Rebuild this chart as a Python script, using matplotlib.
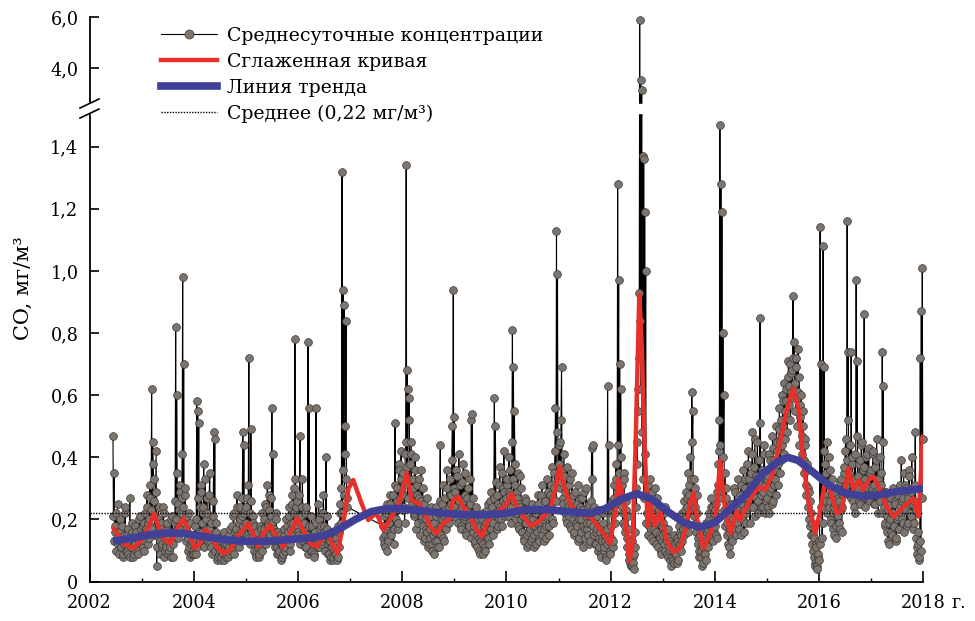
import numpy as np
import matplotlib.pyplot as plt
from matplotlib.lines import Line2D

plt.rcParams['font.family'] = ['DejaVu Serif']
plt.rcParams['font.size'] = 12.7

# ------------------------------------------------------------
# Daily CO means, thinned to ~2 values per week
# (units: 0.01 mg/m3). Gap in the record from Dec 2006 to Aug 2007.
# "a" lists hold the first sample of each week, "b" lists the mid-week one.
# ------------------------------------------------------------
co_2002a = [47, 35, 18, 22, 14, 12, 16, 20, 11, 13, 9, 15, 24, 12, 10, 17, 13, 8,
            11, 19, 14, 9, 12, 16, 10, 13, 21, 15]
co_2003a = [15, 11, 19, 13, 17, 24, 12, 20, 27, 18, 62, 45, 33, 21, 29, 5, 16, 24,
            13, 19, 11, 15, 22, 10, 12, 17, 9, 14, 11, 20, 13, 8, 16, 19, 82, 60,
            25, 18, 31, 22, 27, 98, 70, 28, 17, 21, 14, 11, 19, 9, 13, 10]
co_2004a = [12, 18, 9, 58, 55, 51, 24, 31, 16, 22, 38, 14, 20, 27, 13, 17, 35, 11,
            15, 21, 48, 46, 19, 12, 8, 14, 10, 7, 13, 9, 16, 11, 8, 12, 10, 15,
            9, 13, 18, 11, 22, 14, 17, 28, 12, 19, 24, 16, 21, 48, 44, 23]
co_2005a = [19, 27, 14, 72, 22, 49, 16, 21, 12, 18, 9, 14, 11, 8, 13, 17, 10, 15,
            20, 13, 24, 16, 19, 28, 14, 21, 56, 41, 17, 13, 22, 11, 16, 9, 14, 12,
            8, 11, 15, 10, 13, 18, 14, 21, 12, 17, 25, 19, 30, 78, 24, 18]
co_2006a = [21, 15, 47, 19, 24, 13, 17, 22, 11, 15, 77, 56, 14, 10, 18, 12, 9, 16,
            56, 13, 11, 20, 15, 18, 12, 22, 16, 14, 40, 17, 12, 9, 13, 8, 11, 7,
            10, 14, 9, 12, 8, 16, 22, 19, 132, 94, 89, 50, 84, 27]
co_2007a = [18, 12, 15, 22, 10, 14, 19, 25, 16, 21, 28, 17, 51, 23, 30, 19, 36, 27, 42]
co_2008a = [28, 35, 24, 41, 134, 68, 62, 59, 38, 45, 29, 33, 22, 40, 26, 31, 19, 27,
            24, 36, 21, 18, 25, 14, 20, 16, 23, 12, 17, 21, 10, 15, 19, 13, 24, 11,
            16, 22, 44, 18, 25, 14, 21, 27, 17, 30, 20, 24, 33, 28, 50, 94]
co_2009a = [53, 29, 22, 34, 19, 26, 31, 17, 24, 38, 21, 28, 15, 23, 30, 18, 25, 52,
            54, 16, 22, 13, 19, 11, 17, 14, 9, 15, 20, 12, 18, 10, 16, 23, 14, 21,
            26, 17, 24, 19, 59, 50, 22, 28, 18, 31, 24, 20, 35, 26, 29, 21]
co_2010a = [27, 33, 21, 29, 36, 24, 81, 69, 55, 31, 22, 27, 18, 25, 34, 20, 16, 23,
            13, 19, 26, 15, 21, 12, 17, 24, 14, 20, 11, 18, 22, 16, 25, 13, 19, 28,
            15, 21, 17, 26, 14, 22, 29, 18, 24, 31, 20, 27, 35, 56, 113, 99]
co_2011a = [38, 45, 32, 69, 27, 34, 22, 30, 19, 26, 21, 33, 17, 24, 28, 15, 22, 19,
            25, 13, 20, 27, 16, 23, 18, 29, 14, 21, 17, 24, 12, 19, 26, 43, 44, 15,
            20, 12, 17, 23, 11, 16, 9, 14, 19, 10, 13, 8, 12, 63, 44, 10]
co_2012a = [14, 22, 11, 27, 19, 33, 25, 128, 97, 70, 62, 31, 22, 35, 18, 26, 14, 21,
            9, 6, 12, 5, 8, 4, 11, 30, 45, 62, 93, 590, 355, 315, 137, 136, 119, 100,
            22, 31, 18, 26, 14, 29, 20, 17, 24, 12, 27, 19, 23, 15, 10, 18]
co_2013a = [19, 12, 24, 15, 9, 17, 11, 7, 13, 8, 10, 6, 12, 9, 14, 7, 11, 16,
            10, 13, 20, 15, 23, 18, 27, 16, 31, 22, 26, 61, 55, 33, 24, 19, 28, 14,
            10, 17, 8, 12, 6, 9, 13, 7, 16, 11, 20, 14, 24, 17, 13, 22]
co_2014a = [18, 25, 14, 31, 42, 147, 128, 119, 80, 60, 35, 27, 19, 12, 16, 9, 21, 14,
            25, 18, 29, 15, 22, 26, 17, 24, 31, 20, 27, 16, 33, 22, 38, 25, 29, 19,
            35, 41, 24, 30, 46, 27, 33, 22, 39, 85, 28, 36, 24, 44, 31, 26]
co_2015a = [27, 34, 22, 39, 30, 25, 43, 31, 36, 28, 45, 38, 49, 35, 52, 44, 58, 41,
            55, 62, 48, 66, 57, 70, 61, 68, 92, 77, 64, 72, 59, 75, 66, 53, 60, 47,
            55, 39, 44, 31, 36, 24, 29, 18, 22, 12, 15, 8, 5, 11, 4, 9]
co_2016a = [7, 114, 70, 14, 108, 69, 38, 26, 45, 31, 24, 36, 19, 28, 22, 15, 25, 18,
            30, 21, 26, 17, 33, 24, 29, 37, 42, 31, 116, 74, 35, 28, 74, 40, 26, 33,
            22, 97, 71, 30, 38, 25, 44, 29, 36, 86, 33, 27, 41, 30, 35, 26]
co_2017a = [36, 28, 42, 31, 25, 39, 33, 22, 30, 26, 35, 74, 63, 24, 19, 29, 16, 23,
            12, 20, 27, 15, 22, 18, 25, 14, 21, 28, 17, 24, 39, 20, 27, 16, 31, 23,
            29, 19, 34, 25, 21, 30, 17, 26, 48, 14, 9, 12, 8, 72, 87, 101]

co_2002b = [21, 13, 16, 10, 25, 9, 14, 11, 18, 8, 12, 22, 10, 15, 9, 13, 27, 11,
            16, 8, 12, 18, 10, 14, 9, 20, 12, 17]
co_2003b = [12, 18, 10, 22, 16, 28, 19, 14, 31, 23, 17, 38, 26, 15, 42, 11, 20, 14,
            9, 17, 12, 24, 8, 15, 11, 19, 13, 10, 16, 8, 21, 12, 15, 26, 20, 35,
            14, 23, 29, 17, 41, 24, 19, 30, 13, 16, 10, 22, 8, 12, 15, 9]
co_2004b = [9, 14, 20, 11, 27, 16, 13, 29, 19, 24, 11, 33, 17, 22, 15, 28, 12, 19,
            9, 26, 14, 10, 16, 7, 11, 9, 13, 8, 10, 15, 7, 12, 9, 14, 8, 11,
            17, 10, 13, 21, 9, 16, 12, 24, 15, 11, 20, 13, 27, 18, 22, 14]
co_2005b = [24, 15, 31, 18, 12, 26, 14, 19, 10, 13, 8, 16, 12, 9, 18, 11, 22, 14,
            17, 25, 12, 31, 18, 23, 15, 27, 19, 13, 16, 11, 20, 9, 13, 10, 15, 7,
            12, 9, 17, 11, 20, 13, 16, 24, 10, 19, 28, 15, 22, 33, 17, 26]
co_2006b = [16, 28, 12, 21, 33, 15, 19, 11, 24, 14, 9, 18, 13, 21, 10, 15, 8, 12,
            19, 14, 25, 11, 17, 22, 13, 28, 18, 10, 15, 21, 9, 13, 7, 11, 16, 8,
            12, 9, 14, 7, 18, 11, 25, 30, 22, 36, 28, 41, 33, 24]
co_2007b = [14, 21, 11, 17, 25, 13, 19, 28, 15, 23, 12, 31, 20, 26, 17, 38, 24, 33, 29]
co_2008b = [23, 31, 19, 45, 37, 27, 52, 33, 41, 25, 30, 21, 36, 17, 28, 23, 33, 15,
            26, 20, 30, 13, 22, 17, 27, 11, 19, 14, 24, 12, 18, 9, 16, 21, 13, 17,
            11, 26, 15, 20, 31, 13, 23, 18, 36, 22, 19, 28, 25, 39, 21, 30]
co_2009b = [24, 36, 20, 27, 41, 23, 18, 32, 26, 20, 35, 16, 27, 22, 19, 33, 14, 21,
            27, 18, 12, 24, 15, 20, 10, 18, 13, 22, 9, 16, 11, 19, 14, 25, 12, 17,
            29, 20, 15, 27, 22, 32, 17, 25, 20, 37, 23, 18, 30, 42, 25, 33]
co_2010b = [31, 22, 40, 28, 19, 45, 33, 26, 38, 20, 29, 35, 17, 24, 30, 16, 21, 14,
            27, 19, 11, 23, 16, 20, 13, 25, 18, 15, 22, 12, 19, 28, 14, 23, 17, 31,
            20, 13, 26, 18, 33, 21, 15, 28, 24, 37, 19, 30, 42, 26, 48, 34]
co_2011b = [44, 30, 52, 36, 25, 41, 29, 20, 37, 24, 31, 18, 26, 35, 20, 16, 29, 23,
            18, 31, 14, 24, 20, 27, 11, 22, 17, 30, 19, 15, 25, 13, 21, 33, 18, 24,
            12, 16, 21, 10, 14, 18, 8, 13, 22, 11, 15, 7, 17, 24, 13, 9]
co_2012b = [18, 26, 13, 31, 22, 38, 29, 44, 35, 27, 40, 24, 19, 33, 16, 23, 11, 17,
            7, 10, 5, 13, 6, 9, 16, 24, 38, 55, 72, 84, 62, 48, 33, 27, 41, 19,
            28, 15, 23, 33, 17, 25, 13, 21, 30, 16, 22, 11, 19, 14, 9, 13]
co_2013b = [15, 22, 10, 17, 13, 8, 14, 10, 5, 12, 7, 15, 9, 11, 6, 13, 18, 12,
            15, 22, 17, 26, 20, 29, 24, 35, 28, 40, 33, 45, 26, 21, 30, 16, 22, 12,
            8, 15, 10, 5, 11, 14, 9, 19, 12, 17, 22, 15, 27, 19, 24, 16]
co_2014b = [23, 15, 29, 38, 52, 44, 34, 27, 40, 23, 18, 30, 15, 21, 11, 17, 25, 13,
            20, 30, 17, 24, 19, 33, 21, 28, 15, 25, 36, 23, 30, 19, 27, 42, 33, 24,
            31, 48, 28, 37, 21, 34, 45, 26, 32, 51, 24, 35, 29, 41, 22, 33]
co_2015b = [33, 24, 41, 29, 36, 47, 26, 39, 33, 50, 42, 31, 56, 45, 39, 60, 50, 64,
            46, 58, 53, 71, 63, 52, 67, 59, 72, 62, 55, 69, 50, 61, 44, 57, 41, 50,
            35, 46, 28, 38, 30, 20, 26, 15, 19, 10, 14, 6, 12, 5, 8, 13]
co_2016b = [12, 24, 33, 19, 42, 28, 35, 22, 31, 40, 26, 20, 33, 17, 24, 29, 14, 21,
            27, 19, 32, 23, 16, 28, 35, 30, 46, 39, 52, 33, 44, 27, 38, 31, 24, 41,
            29, 47, 34, 26, 39, 32, 45, 28, 37, 24, 40, 31, 27, 43, 35, 29]
co_2017b = [30, 41, 25, 37, 29, 46, 33, 27, 40, 31, 22, 45, 29, 18, 26, 21, 13, 19,
            25, 16, 22, 30, 18, 26, 13, 20, 28, 17, 31, 22, 26, 19, 35, 24, 30, 18,
            27, 36, 22, 29, 40, 25, 19, 31, 23, 11, 16, 7, 13, 10, 27, 46]

co_first = [co_2002a, co_2003a, co_2004a, co_2005a, co_2006a, co_2007a, co_2008a,
            co_2009a, co_2010a, co_2011a, co_2012a, co_2013a, co_2014a, co_2015a,
            co_2016a, co_2017a]
co_mid = [co_2002b, co_2003b, co_2004b, co_2005b, co_2006b, co_2007b, co_2008b,
          co_2009b, co_2010b, co_2011b, co_2012b, co_2013b, co_2014b, co_2015b,
          co_2016b, co_2017b]
# period (decimal years) covered by each list above
period_start = [2002.45, 2003.0, 2004.0, 2005.0, 2006.0, 2007.63, 2008.0, 2009.0,
                2010.0, 2011.0, 2012.0, 2013.0, 2014.0, 2015.0, 2016.0, 2017.0]
period_end = [2002.98, 2003.98, 2004.98, 2005.98, 2006.94, 2007.98, 2008.98, 2009.98,
              2010.98, 2011.98, 2012.98, 2013.98, 2014.98, 2015.98, 2016.98, 2017.98]

# smoothed curve (red)
red_t = [2002.47, 2002.65, 2002.84, 2003.03, 2003.16, 2003.24, 2003.32, 2003.45, 2003.55,
         2003.67, 2003.80, 2003.93, 2004.02, 2004.12, 2004.22, 2004.31, 2004.44, 2004.57,
         2004.70, 2004.83, 2004.95, 2005.05, 2005.14, 2005.24, 2005.34, 2005.46, 2005.59,
         2005.72, 2005.85, 2005.98, 2006.10, 2006.23, 2006.36, 2006.49, 2006.58, 2006.66,
         2006.76, 2006.87, 2006.97, 2007.06, 2007.14, 2007.22, 2007.35, 2007.42, 2007.51,
         2007.64, 2007.80, 2007.96, 2008.09, 2008.18, 2008.31, 2008.41, 2008.54, 2008.66,
         2008.79, 2008.89, 2008.98, 2009.08, 2009.17, 2009.30, 2009.43, 2009.53, 2009.62,
         2009.75, 2009.88, 2010.01, 2010.10, 2010.20, 2010.33, 2010.46, 2010.58, 2010.71,
         2010.84, 2010.93, 2011.02, 2011.10, 2011.22, 2011.35, 2011.61, 2011.86, 2011.99,
         2012.09, 2012.15, 2012.25, 2012.30, 2012.36, 2012.42, 2012.48, 2012.55, 2012.60,
         2012.65, 2012.71, 2012.76, 2012.85, 2012.95, 2013.08, 2013.20, 2013.33, 2013.46,
         2013.52, 2013.59, 2013.66, 2013.78, 2013.91, 2014.01, 2014.06, 2014.10, 2014.15,
         2014.20, 2014.30, 2014.42, 2014.48, 2014.61, 2014.74, 2014.87, 2014.97, 2015.09,
         2015.22, 2015.38, 2015.50, 2015.61, 2015.70, 2015.80, 2015.93, 2016.02, 2016.12,
         2016.21, 2016.34, 2016.44, 2016.56, 2016.66, 2016.76, 2016.85, 2016.95, 2017.04,
         2017.17, 2017.30, 2017.43, 2017.56, 2017.69, 2017.81, 2017.91, 2017.99]
red_v = [0.170, 0.123, 0.107, 0.139, 0.188, 0.220, 0.177, 0.134, 0.123,
         0.166, 0.204, 0.155, 0.107, 0.123, 0.166, 0.155, 0.112, 0.091,
         0.102, 0.145, 0.166, 0.188, 0.155, 0.112, 0.155, 0.182, 0.145,
         0.112, 0.155, 0.204, 0.166, 0.123, 0.112, 0.145, 0.150, 0.120,
         0.090, 0.188, 0.300, 0.327, 0.290, 0.252, 0.198, 0.209, 0.220,
         0.166, 0.209, 0.263, 0.349, 0.263, 0.252, 0.230, 0.177, 0.155,
         0.188, 0.198, 0.263, 0.273, 0.241, 0.209, 0.166, 0.145, 0.188,
         0.220, 0.230, 0.252, 0.284, 0.241, 0.209, 0.180, 0.188, 0.209,
         0.230, 0.290, 0.370, 0.310, 0.252, 0.220, 0.209, 0.155, 0.123,
         0.230, 0.330, 0.270, 0.170, 0.066, 0.120, 0.450, 0.925, 0.750,
         0.450, 0.180, 0.250, 0.180, 0.227, 0.130, 0.095, 0.107, 0.180,
         0.250, 0.286, 0.200, 0.107, 0.156, 0.203, 0.300, 0.390, 0.300,
         0.227, 0.156, 0.227, 0.198, 0.241, 0.284, 0.305, 0.295, 0.338,
         0.424, 0.552, 0.622, 0.552, 0.381, 0.252, 0.155, 0.230, 0.327,
         0.295, 0.220, 0.230, 0.365, 0.295, 0.327, 0.295, 0.327, 0.338,
         0.295, 0.241, 0.209, 0.230, 0.252, 0.268, 0.209, 0.466]

# trend line (blue)
blue_t = [2002.45, 2002.8, 2003.2, 2003.5, 2003.8, 2004.2, 2004.6, 2005.0, 2005.4,
          2005.8, 2006.2, 2006.5, 2006.8, 2007.1, 2007.4, 2007.7, 2008.0, 2008.4,
          2008.8, 2009.2, 2009.6, 2010.0, 2010.4, 2010.8, 2011.2, 2011.6, 2011.9,
          2012.2, 2012.5, 2012.8, 2013.1, 2013.4, 2013.7, 2014.0, 2014.3, 2014.6,
          2014.9, 2015.2, 2015.4, 2015.6, 2015.9, 2016.2, 2016.5, 2016.8, 2017.1,
          2017.5, 2018.0]
blue_v = [0.130, 0.140, 0.152, 0.157, 0.155, 0.145, 0.135, 0.130, 0.130,
          0.135, 0.140, 0.148, 0.170, 0.200, 0.225, 0.235, 0.235, 0.228,
          0.220, 0.215, 0.215, 0.220, 0.232, 0.232, 0.225, 0.220, 0.235,
          0.265, 0.283, 0.265, 0.225, 0.190, 0.175, 0.190, 0.235, 0.280,
          0.345, 0.385, 0.400, 0.390, 0.350, 0.310, 0.285, 0.275, 0.278,
          0.290, 0.300]

mean_co = 0.22

y_ticks = [0, 0.2, 0.4, 0.6, 0.8, 1.0, 1.2, 1.4, 4.0, 6.0]
y_labels = ['0', '0,2', '0,4', '0,6', '0,8', '1,0', '1,2', '1,4', '4,0', '6,0']
x_ticks = [2002, 2004, 2006, 2008, 2010, 2012, 2014, 2016, 2018]
x_labels = ['2002', '2004', '2006', '2008', '2010', '2012', '2014', '2016', '2018']

# ------------------------------------------------------------
# broken y axis: 0..1.5 linear, 1.5..2.6 squeezed into the break,
# above that a compressed linear part for the 4,0 / 6,0 ticks
# ------------------------------------------------------------
brk_data = [0.0, 1.5, 2.6, 7.0]
brk_axis = [0.0, 1.5, 1.5372, 1.8983]


def fwd(v):
    return np.interp(v, brk_data, brk_axis)


def inv(v):
    return np.interp(v, brk_axis, brk_data)


t_parts, v_parts = [], []
for va, vb, a, b in zip(co_first, co_mid, period_start, period_end):
    t_parts += [np.linspace(a, b, len(va)), np.linspace(a + 0.009, b + 0.009, len(vb))]
    v_parts += [np.array(va) / 100.0, np.array(vb) / 100.0]
t_all = np.concatenate(t_parts)
co_all = np.concatenate(v_parts)
order = np.argsort(t_all, kind='stable')
t_all, co_all = t_all[order], co_all[order]

fig = plt.figure(figsize=(9.75, 6.21), dpi=100)
ax = fig.add_axes([0.0918, 0.0634, 0.8552, 0.9087])
ax.set_yscale('function', functions=(fwd, inv))

ax.plot(t_all, co_all, color='black', lw=0.8, marker='o', ms=5.6,
        mfc='#7c746f', mec='#3a3632', mew=0.5, zorder=2, clip_on=False)
ax.axhline(mean_co, color='black', lw=1.0, ls=(0, (1, 1)), zorder=3)
ax.plot(red_t, red_v, color='#e8302a', lw=3.2, zorder=4, solid_joinstyle='round')
ax.plot(blue_t, blue_v, color='#404096', lw=5.5, zorder=5, solid_capstyle='butt')

ax.set_xlim(2002, 2018)
ax.set_ylim(0, 6.0)

# white gap + slashes marking the axis break
ax.axhspan(1.75, 2.6, xmin=-0.02, xmax=1.0, color='white', zorder=6, clip_on=False)
for yc in (0.8473, 0.8295):
    ax.plot([-0.0114, 0.0114], [yc - 0.008, yc + 0.008], color='black', lw=1.2,
            transform=ax.transAxes, clip_on=False, zorder=7)

ax.spines['top'].set_visible(False)
ax.spines['right'].set_visible(False)
for s in ('left', 'bottom'):
    ax.spines[s].set_linewidth(1.3)

ax.set_yticks(y_ticks, y_labels)
ax.set_xticks(x_ticks, x_labels)
ax.set_xticks(np.arange(2003, 2018, 2), minor=True)
ax.yaxis.set_minor_locator(plt.NullLocator())
ax.tick_params(axis='y', direction='in', length=6.5, width=1.2, pad=8)
ax.tick_params(axis='x', which='major', direction='in', length=8, width=1.2, pad=9)
ax.tick_params(axis='x', which='minor', direction='in', length=3, width=1.0)
ax.annotate('г.', xy=(1, 0), xycoords='axes fraction', xytext=(20, -9),
            textcoords='offset points', ha='left', va='top')

ax.set_ylabel('CO, мг/м³', fontsize=15)
ax.yaxis.set_label_coords(-0.068, 0.52)

handles = [
    Line2D([], [], color='black', lw=0.8, marker='o', ms=6.5, mfc='#7c746f',
           mec='#3a3632', mew=0.5),
    Line2D([], [], color='#e8302a', lw=3.2),
    Line2D([], [], color='#404096', lw=5.5),
    Line2D([], [], color='black', lw=1.0, ls=(0, (1, 1))),
]
labels = ['Среднесуточные концентрации', 'Сглаженная кривая', 'Линия тренда',
          'Среднее (0,22 мг/м³)']
leg = ax.legend(handles, labels, loc='upper left', bbox_to_anchor=(0.086, 0.983),
                frameon=False, numpoints=1, handlelength=2.95, handletextpad=0.55,
                labelspacing=0.42, borderpad=0, borderaxespad=0, fontsize=13.6)
leg.set_zorder(8)

fig.savefig('out.png', dpi=100)
